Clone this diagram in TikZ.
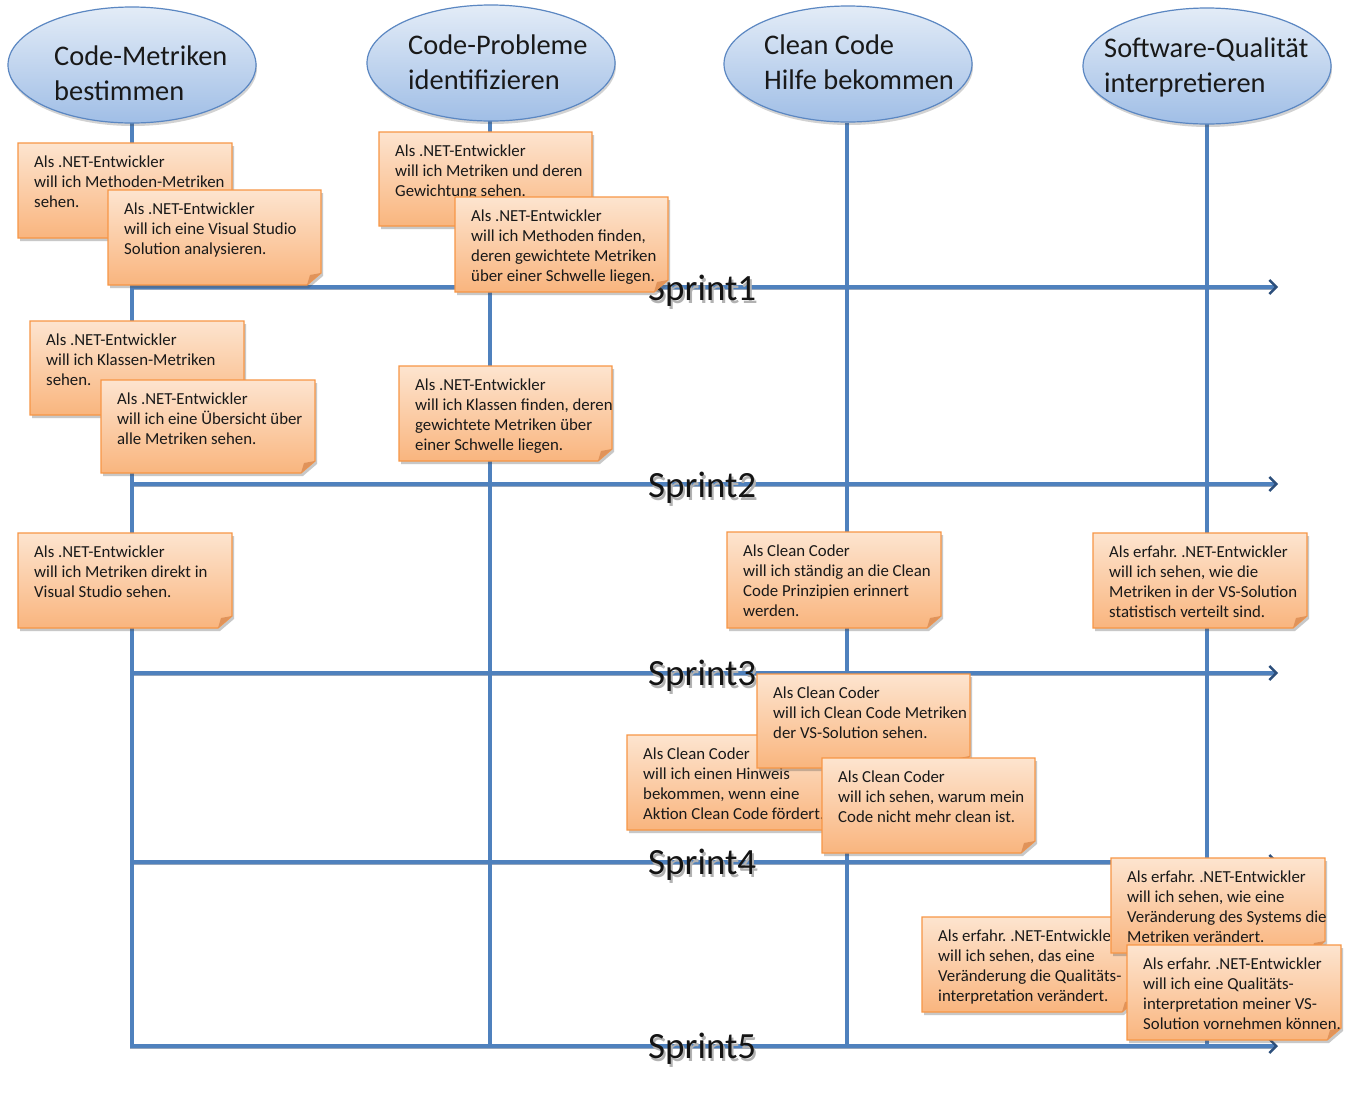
\documentclass[tikz,border=0pt]{standalone}
\usepackage{fontspec}
\setmainfont{Carlito}
\frenchspacing
\usetikzlibrary{shadows,arrows.meta,shapes.geometric}
\definecolor{noteTop}{HTML}{FDE4CF}
\definecolor{noteBot}{HTML}{F9B57E}
\definecolor{noteBorder}{HTML}{F79646}
\definecolor{noteFold}{HTML}{E0935A}
\definecolor{ellTop}{HTML}{E3ECF7}
\definecolor{ellBot}{HTML}{A0BEE6}
\definecolor{ellBorder}{HTML}{5B87C2}
\definecolor{lineBlue}{HTML}{4F81BD}
\definecolor{lineDark}{HTML}{2C4F7C}
\newcommand\usnote[6]{%
  \path[notebody] (#2,#3) -- (#4,#3) -- (#4,#5-12) -- (#4-14,#5) -- (#2,#5) -- cycle;
  \fill[noteFold] (#4,#5-12) -- (#4-14,#5) -- (#4-11,#5-10) -- cycle;
  \node[notetext] (#1) at (#2+16,#3+13) {#6};
}
\newcommand\shadowtext[1]{\makebox[0pt][l]{\hspace{2pt}\raisebox{-3pt}{\textcolor{black!30}{#1}}}#1}
\begin{document}
\begin{tikzpicture}[x=1pt,y=-1pt,
  notebody/.style={top color=noteTop, bottom color=noteBot, draw=noteBorder, line width=1.2pt,
    drop shadow={shadow xshift=2pt, shadow yshift=-3pt, opacity=0.3, fill=black!70}},
  notetext/.style={anchor=north west, inner sep=0pt, align=left, text=black!90,
    font=\fontsize{16.8}{20}\selectfont},
  ell/.style={ellipse, minimum width=248pt, minimum height=116pt, inner sep=0pt,
    top color=ellTop, bottom color=ellBot, draw=ellBorder, line width=1.2pt,
    drop shadow={shadow xshift=1pt, shadow yshift=-3pt, opacity=0.25, fill=black!70}},
  elltext/.style={anchor=north west, inner sep=0pt, align=left, text=black!90,
    font=\fontsize{28.4}{35}\selectfont},
  vline/.style={draw=lineBlue, line width=3.5pt},
  sprintline/.style={draw=lineBlue, line width=3.5pt,
    -{Straight Barb[length=7pt,width=14pt,line width=2.4pt,color=lineDark]}},
  sprinttext/.style={anchor=west, inner sep=0pt, text=black!92,
    font=\fontsize{37}{40}\selectfont},
]
\useasboundingbox (0,0) rectangle (1359,1104);
\fill[white] (0,0) rectangle (1359,1104);

% sprint arrows
\foreach \i/\y in {1/287,2/484,3/673,4/862,5/1046}{
  \coordinate (s\i a) at (130,\y);
  \coordinate (s\i b) at (1278,\y);
  \draw[draw=lineDark, line width=4.5pt, opacity=0.5] ([yshift=-1pt]s\i a) -- ([xshift=-6pt,yshift=-1pt]s\i b);
  \draw[sprintline] (s\i a) -- (s\i b);
}

% vertical lines
\coordinate (v1) at (132,1046);
\coordinate (v2) at (490,1044);
\coordinate (v3) at (847,1044);
\coordinate (v4) at (1207,1044);
\draw[vline] (132,123) -- (v1);
\draw[vline] (490,121) -- (v2);
\draw[vline] (847,123) -- (v3);
\draw[vline] (1207,124) -- (v4);

% ellipses
\node[ell] (e1) at (132,65) {};
\node[ell] (e2) at (491,63) {};
\node[ell] (e3) at (848,64) {};
\node[ell] (e4) at (1207,66) {};

\node[elltext] (t1) at (54,46) {Code-Metriken\\bestimmen};
\node[elltext] (t2) at (408,35) {Code-Probleme\\identifizieren};
\node[elltext] (t3) at (764,35) {Clean Code\\Hilfe bekommen};
\node[elltext] (t4) at (1104,38) {Software-Qualität\\interpretieren};

% sprint labels
\foreach \i/\y in {1/292,2/489,3/677,4/866,5/1050}{
  \node[sprinttext] (l\i) at (648,\y) {\shadowtext{Sprint\i}};
}

% notes
\usnote{n1}{18}{143}{232}{238}{Als .NET-Entwickler\\will ich Methoden-Metriken\\sehen.}
\usnote{n2}{108}{190}{321}{285}{Als .NET-Entwickler\\will ich eine Visual Studio\\Solution analysieren.}
\usnote{n3}{379}{132}{592}{226}{Als .NET-Entwickler\\will ich Metriken und deren\\Gewichtung sehen.}
\usnote{n4}{455}{197}{668}{292}{Als .NET-Entwickler\\will ich Methoden finden,\\deren gewichtete Metriken\\über einer Schwelle liegen.}
\usnote{n5}{30}{321}{244}{415}{Als .NET-Entwickler\\will ich Klassen-Metriken\\sehen.}
\usnote{n6}{101}{380}{315}{473}{Als .NET-Entwickler\\will ich eine Übersicht über\\alle Metriken sehen.}
\usnote{n7}{399}{366}{612}{461}{Als .NET-Entwickler\\will ich Klassen finden, deren\\gewichtete Metriken über\\einer Schwelle liegen.}
\usnote{n8}{18}{533}{232}{628}{Als .NET-Entwickler\\will ich Metriken direkt in\\Visual Studio sehen.}
\usnote{n9}{727}{532}{941}{628}{Als Clean Coder\\will ich ständig an die Clean\\Code Prinzipien erinnert\\werden.}
\usnote{n10}{1093}{533}{1307}{628}{Als erfahr. .NET-Entwickler\\will ich sehen, wie die\\Metriken in der VS-Solution\\statistisch verteilt sind.}
\usnote{n12}{627}{735}{840}{830}{Als Clean Coder\\will ich einen Hinweis\\bekommen, wenn eine\\Aktion Clean Code fördert.}
\usnote{n11}{757}{674}{970}{768}{Als Clean Coder\\will ich Clean Code Metriken\\der VS-Solution sehen.}
\usnote{n13}{822}{758}{1035}{853}{Als Clean Coder\\will ich sehen, warum mein\\Code nicht mehr clean ist.}
\usnote{n15}{922}{917}{1136}{1012}{Als erfahr. .NET-Entwickler\\will ich sehen, das eine\\Veränderung die Qualitäts-\\interpretation verändert.}
\usnote{n14}{1111}{858}{1325}{953}{Als erfahr. .NET-Entwickler\\will ich sehen, wie eine\\Veränderung des Systems die\\Metriken verändert.}
\usnote{n16}{1127}{945}{1341}{1040}{Als erfahr. .NET-Entwickler\\will ich eine Qualitäts-\\interpretation meiner VS-\\Solution vornehmen können.}
\end{tikzpicture}
\end{document}
